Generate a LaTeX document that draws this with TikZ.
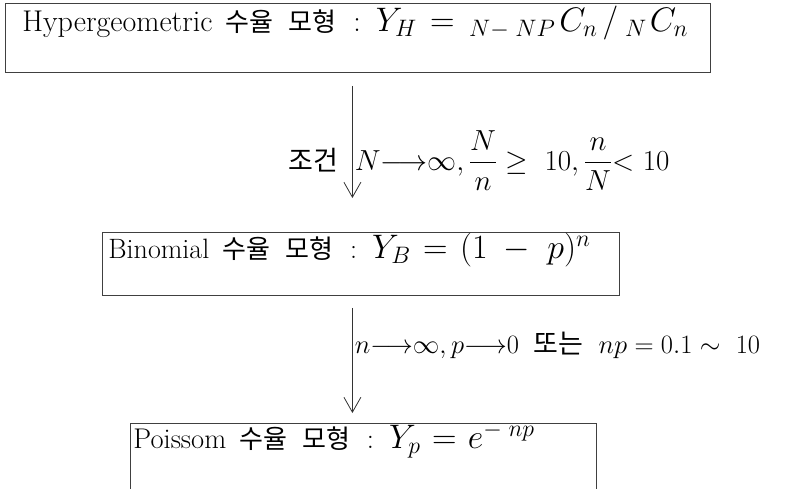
\RequirePackage{fix-cm}
\documentclass[tikz,border=0pt]{standalone}
\usepackage{amsmath}
\usepackage{fontspec}
\setmainfont{Latin Modern Roman}
\newfontfamily\kr{Noto Sans CJK KR}
\usetikzlibrary{arrows.meta}

\newcommand\hangul[2][26]{{\kr\fontsize{#1}{#1}\selectfont #2}}
\newcommand\eqsize[2]{{\fontsize{#1}{#1}\selectfont$#2$}}

\tikzset{
  model/.style={draw=black!75, line width=0.8pt, anchor=north west, inner ysep=0pt},
  flow/.style={->, draw=black!80, line width=0.8pt},
  cond/.style={inner sep=2pt}
}

\begin{document}
\begin{tikzpicture}[x=1pt, y=-1pt, >={Straight Barb[length=15pt,width=17pt]}]
  \useasboundingbox (0,0) rectangle (791,488);

  % Models
  \node[model, inner xsep=17pt, text height=28pt, text depth=41pt] (hyper) at (5,3)
    {\makebox[671pt][l]{\fontsize{30}{36}\selectfont Hypergeometric\hspace{13pt}\hangul{수율}\hspace{15pt}\hangul{모형}%
     \hspace{17pt}:\hspace{15pt}%
     \eqsize{34}{Y_H\hspace{4pt}=\hspace{5pt}{}_{N-\;NP}\hspace{4pt}C_n\hspace{5pt}/\hspace{7pt}{}_N\hspace{3pt}C_n}}};
  \node[model, inner xsep=6pt, text height=26pt, text depth=37pt] (binom) at (102,232)
    {\makebox[505pt][l]{\fontsize{28}{34}\selectfont Binomial\hspace{13pt}\hangul{수율}\hspace{15pt}\hangul{모형}%
     \hspace{17pt}:\hspace{15pt}%
     \eqsize{34}{Y_B\hspace{3pt}=\hspace{3pt}(1\hspace{8pt}-\hspace{10pt}p)^n}}};
  \node[model, inner xsep=3pt, text height=25pt, text depth=45pt] (poisson) at (130,423)
    {\makebox[460pt][l]{\fontsize{28.5}{34}\selectfont Poissom\hspace{13pt}\hangul{수율}\hspace{15pt}\hangul{모형}%
     \hspace{17pt}:\hspace{15pt}%
     \eqsize{34}{Y_p\hspace{2pt}=\hspace{2pt}e^{-\;np}}}};

  % Conditions
  \draw[flow, shorten <=13pt, shorten >=34pt] ([xshift=-5.5pt]hyper.south) -- ([xshift=-8.5pt]binom.north)
    node[cond, pos=0.55, left, xshift=-12pt] (cond1) {\hangul[27]{조건}}
    node[cond, pos=0.55, right] (lim1)
      {\eqsize{29}{{N}{\longrightarrow}{\infty}, \dfrac{N}{n}\geq\ 10, \dfrac{n}{N}{<}\ 10}};
  \draw[flow, shorten <=12pt, shorten >=10pt] ([xshift=-8.5pt]binom.south) -- ([xshift=-11pt]poisson.north)
    node[cond, pos=0.39, right] (lim2)
      {\eqsize{26.5}{{n}{\longrightarrow}{\infty}, {p}{\longrightarrow}{0}}\hspace{15pt}\hangul[27]{또는}%
       \hspace{15pt}\eqsize{26.5}{np=0.1\sim\ 10}};
\end{tikzpicture}
\end{document}
